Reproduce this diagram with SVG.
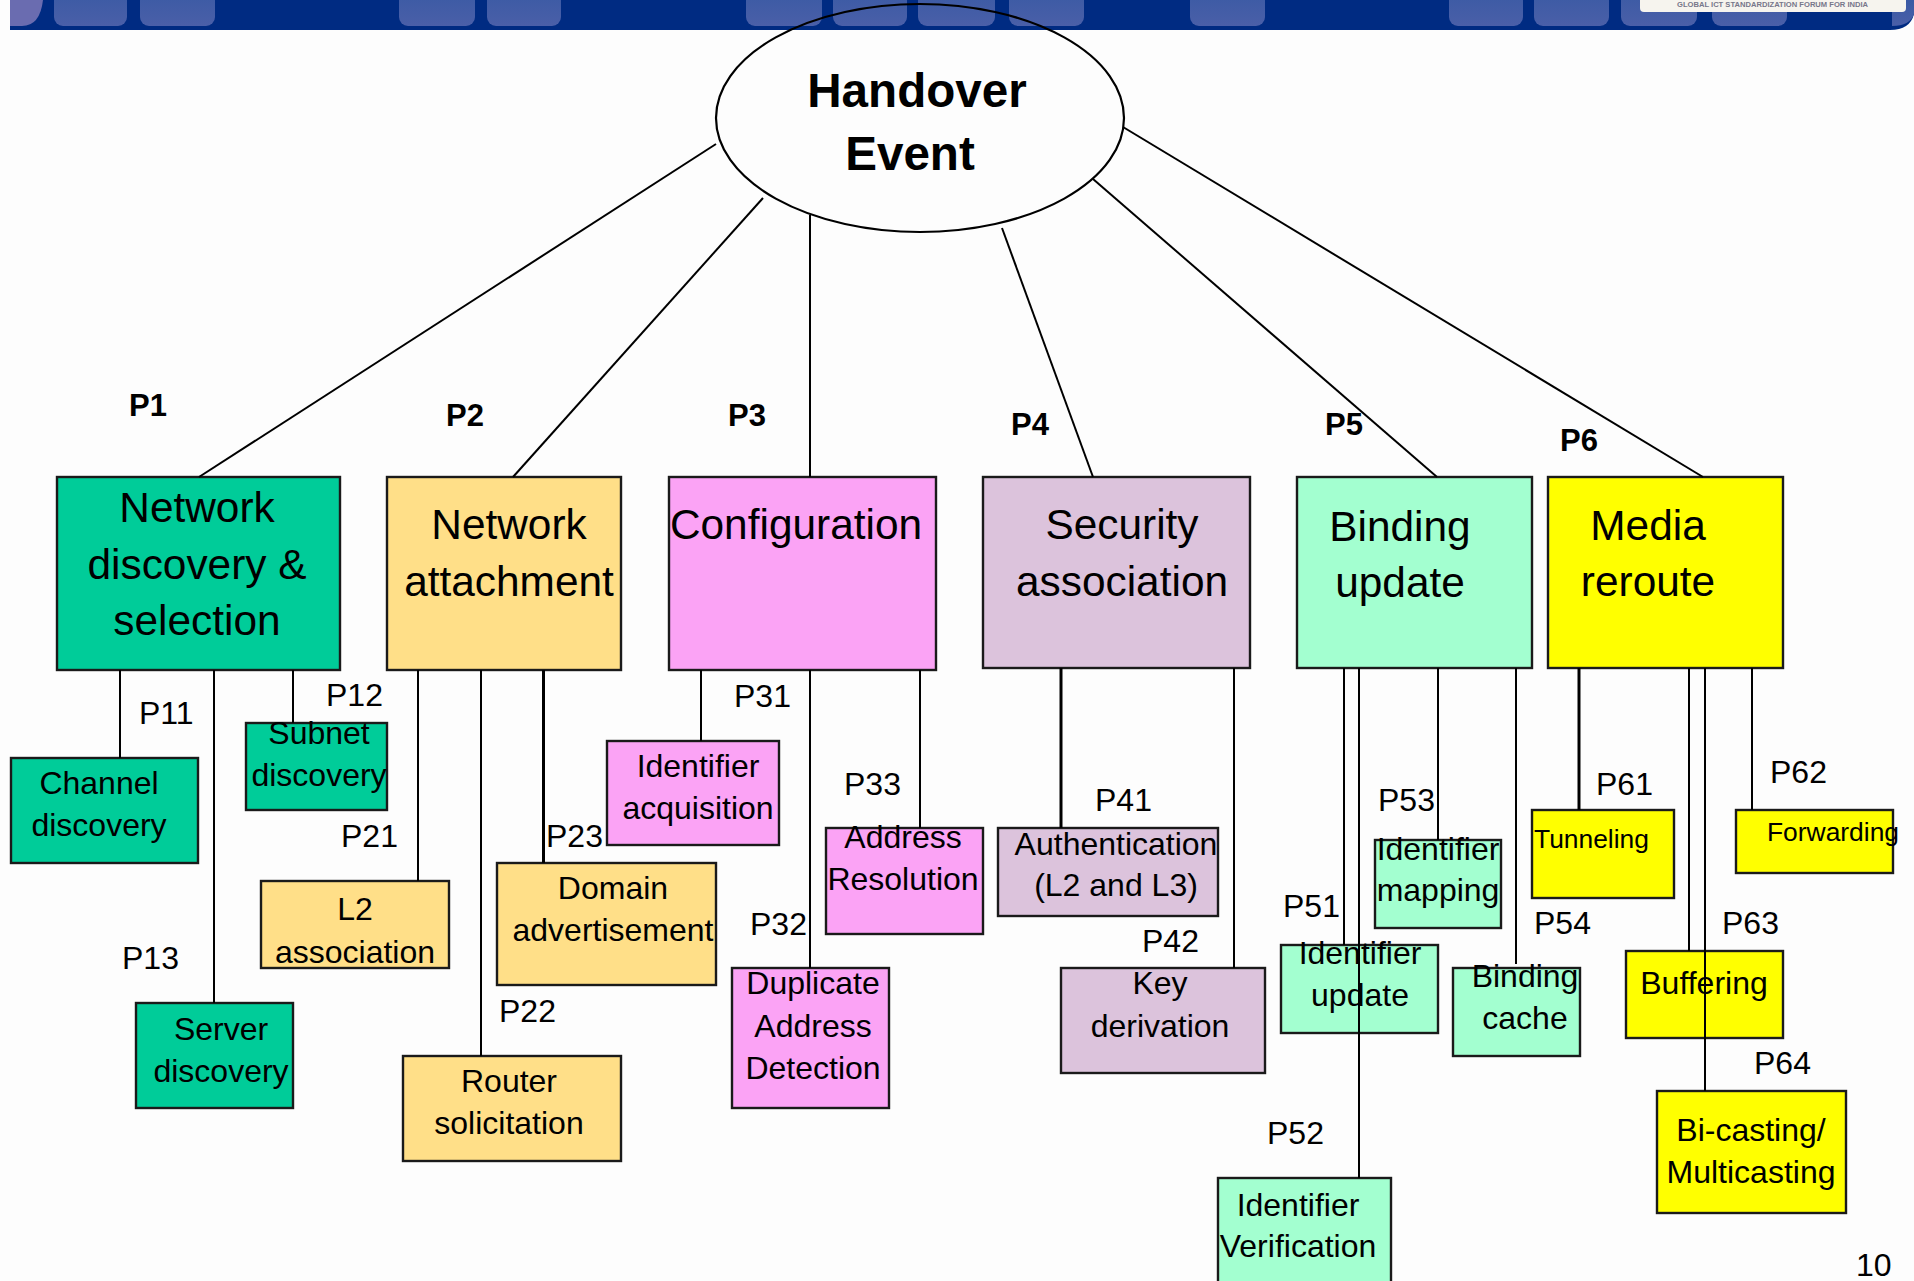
<svg xmlns="http://www.w3.org/2000/svg" width="1914" height="1281" viewBox="0 0 1914 1281">
<defs><linearGradient id="tab" x1="0" y1="0" x2="0" y2="1"><stop offset="0" stop-color="#3a5aa4"/><stop offset="1" stop-color="#4a5fa8"/></linearGradient></defs>
<style>
text{font-family:"Liberation Sans",Arial,sans-serif;fill:#000}
.m{font-size:42.4px;text-anchor:middle}
.c{font-size:32px;text-anchor:middle}
.p{font-size:32px}
.b{font-size:31px;font-weight:bold}
.h{font-size:47.600px;font-weight:bold;text-anchor:middle}
.s{font-size:26.400px}
rect.n{stroke:#1a1a1a;stroke-width:2.4}
.g{fill:#00cc99}.t{fill:#ffdf88}.k{fill:#fba3f5}.v{fill:#dcc3dc}.i{fill:#a3ffd0}.y{fill:#ffff00}
.tb{fill:url(#tab)}
#connectors line{stroke:#000;stroke-width:2}
#connectors line.w{stroke-width:3}
</style>
<rect width="1914" height="1281" fill="#fdfdfd"/>
<g id="banner">
<path d="M10 0H1914V14Q1910 30 1890 30H10Z" fill="#002b82"/>
<path d="M10 0H43Q40 26 22 26H10Z" fill="#6a6cb0"/>
<g class="tb">
<rect x="54" y="-10" width="73" height="36" rx="9"/><rect x="140" y="-10" width="75" height="36" rx="9"/>
<rect x="399" y="-10" width="76" height="36" rx="9"/><rect x="487" y="-10" width="74" height="36" rx="9"/>
<rect x="746" y="-10" width="76" height="36" rx="9"/><rect x="833" y="-10" width="74" height="36" rx="9"/>
<rect x="918" y="-10" width="77" height="36" rx="9"/><rect x="1009" y="-10" width="75" height="36" rx="9"/>
<rect x="1190" y="-10" width="75" height="36" rx="9"/><rect x="1449" y="-10" width="74" height="36" rx="9"/>
<rect x="1534" y="-10" width="75" height="36" rx="9"/><rect x="1621" y="-10" width="76" height="36" rx="9"/>
<rect x="1712" y="-10" width="75" height="36" rx="9"/><path d="M1892 0H1914V14Q1910 26 1892 26Z"/>
</g>
<rect x="1640" y="-6" width="266" height="18" rx="4" fill="#f6f4ee"/>
<text x="1677" y="7" font-size="7.600" font-weight="bold" style="fill:#77778a">GLOBAL ICT STANDARDIZATION FORUM FOR INDIA</text>
</g>
<g id="n0"><ellipse cx="920" cy="118" rx="204" ry="114" fill="none" stroke="#000" stroke-width="2.200"/><text class="h" x="917" y="107">Handover</text><text class="h" x="910" y="170">Event</text></g>
<g id="p1"><rect class="n g" x="57" y="477" width="283" height="193"/><text class="m" x="197" y="522">Network</text><text class="m" x="197" y="579">discovery &amp;</text><text class="m" x="197" y="635">selection</text></g>
<g id="p2"><rect class="n t" x="387" y="477" width="234" height="193"/><text class="m" x="509" y="539">Network</text><text class="m" x="509" y="596">attachment</text></g>
<g id="p3"><rect class="n k" x="669" y="477" width="267" height="193"/><text class="m" x="796" y="539">Configuration</text></g>
<g id="p4"><rect class="n v" x="983" y="477" width="267" height="191"/><text class="m" x="1122" y="539">Security</text><text class="m" x="1122" y="596">association</text></g>
<g id="p5"><rect class="n i" x="1297" y="477" width="235" height="191"/><text class="m" x="1400" y="541">Binding</text><text class="m" x="1400" y="597">update</text></g>
<g id="p6"><rect class="n y" x="1548" y="477" width="235" height="191"/><text class="m" x="1648" y="540">Media</text><text class="m" x="1648" y="596">reroute</text></g>
<g id="p11"><rect class="n g" x="11" y="758" width="187" height="105"/><text class="c" x="99" y="794">Channel</text><text class="c" x="99" y="836">discovery</text></g>
<g id="p12"><rect class="n g" x="246" y="723" width="141" height="87"/><text class="c" x="319" y="744">Subnet</text><text class="c" x="319" y="786">discovery</text></g>
<g id="p13"><rect class="n g" x="136" y="1003" width="157" height="105"/><text class="c" x="221" y="1040">Server</text><text class="c" x="221" y="1082">discovery</text></g>
<g id="p21"><rect class="n t" x="261" y="881" width="188" height="87"/><text class="c" x="355" y="920">L2</text><text class="c" x="355" y="963">association</text></g>
<g id="p23"><rect class="n t" x="497" y="863" width="219" height="122"/><text class="c" x="613" y="899">Domain</text><text class="c" x="613" y="941">advertisement</text></g>
<g id="p22"><rect class="n t" x="403" y="1056" width="218" height="105"/><text class="c" x="509" y="1092">Router</text><text class="c" x="509" y="1134">solicitation</text></g>
<g id="p31"><rect class="n k" x="607" y="741" width="172" height="104"/><text class="c" x="698" y="777">Identifier</text><text class="c" x="698" y="819">acquisition</text></g>
<g id="p33"><rect class="n k" x="826" y="828" width="157" height="106"/><text class="c" x="903" y="848">Address</text><text class="c" x="903" y="890">Resolution</text></g>
<g id="p32"><rect class="n k" x="732" y="968" width="157" height="140"/><text class="c" x="813" y="994">Duplicate</text><text class="c" x="813" y="1037">Address</text><text class="c" x="813" y="1079">Detection</text></g>
<g id="p41"><rect class="n v" x="998" y="828" width="220" height="88"/><text class="c" x="1116" y="855">Authentication</text><text class="c" x="1116" y="896">(L2 and L3)</text></g>
<g id="p42"><rect class="n v" x="1061" y="968" width="204" height="105"/><text class="c" x="1160" y="994">Key</text><text class="c" x="1160" y="1037">derivation</text></g>
<g id="p51"><rect class="n i" x="1281" y="945" width="157" height="88"/><text class="c" x="1360" y="964">Identifier</text><text class="c" x="1360" y="1006">update</text></g>
<g id="p53"><rect class="n i" x="1375" y="840" width="126" height="88"/><text class="c" x="1438" y="860">Identifier</text><text class="c" x="1438" y="901">mapping</text></g>
<g id="p54"><rect class="n i" x="1453" y="968" width="127" height="88"/><text class="c" x="1525" y="987">Binding</text><text class="c" x="1525" y="1029">cache</text></g>
<g id="p52"><rect class="n i" x="1218" y="1178" width="173" height="110"/><text class="c" x="1298" y="1216">Identifier</text><text class="c" x="1298" y="1257">Verification</text></g>
<g id="p61"><rect class="n y" x="1532" y="810" width="142" height="88"/><text class="s" x="1534" y="848">Tunneling</text></g>
<g id="p62"><rect class="n y" x="1736" y="810" width="157" height="63"/><text class="s" x="1767" y="841">Forwarding</text></g>
<g id="p63"><rect class="n y" x="1626" y="951" width="157" height="87"/><text class="c" x="1704" y="994">Buffering</text></g>
<g id="p64"><rect class="n y" x="1657" y="1091" width="189" height="122"/><text class="c" x="1751" y="1141">Bi-casting/</text><text class="c" x="1751" y="1183">Multicasting</text></g>
<g id="connectors">
<line x1="716" y1="144" x2="199" y2="477"/><line x1="763" y1="198" x2="513" y2="477"/><line x1="810" y1="215" x2="810" y2="477"/><line x1="1002" y1="228" x2="1093" y2="477"/><line x1="1093" y1="179" x2="1437" y2="477"/><line x1="1123" y1="127" x2="1703" y2="477"/>
<line x1="120" y1="670" x2="120" y2="758"/><line x1="214" y1="670" x2="214" y2="1003"/><line x1="293" y1="670" x2="293" y2="723"/>
<line x1="418" y1="670" x2="418" y2="881"/><line x1="481" y1="670" x2="481" y2="1056"/><line class="w" x1="543.500" y1="670" x2="543.500" y2="863"/>
<line x1="701" y1="670" x2="701" y2="741"/><line x1="810" y1="670" x2="810" y2="968"/><line x1="920" y1="670" x2="920" y2="828"/>
<line class="w" x1="1061" y1="668" x2="1061" y2="828"/><line x1="1234" y1="668" x2="1234" y2="968"/>
<line x1="1344" y1="668" x2="1344" y2="945"/><line x1="1359" y1="668" x2="1359" y2="1178"/><line x1="1438" y1="668" x2="1438" y2="840"/><line x1="1516" y1="668" x2="1516" y2="964"/>
<line class="w" x1="1579" y1="668" x2="1579" y2="810"/><line x1="1689" y1="668" x2="1689" y2="951"/><line x1="1705" y1="668" x2="1705" y2="1091"/><line x1="1752" y1="668" x2="1752" y2="810"/>
</g>
<g id="labels">
<text class="b" x="129" y="416">P1</text><text class="b" x="446" y="426">P2</text><text class="b" x="728" y="426">P3</text><text class="b" x="1011" y="435">P4</text><text class="b" x="1325" y="435">P5</text><text class="b" x="1560" y="451">P6</text>
<text class="p" x="139" y="724">P11</text><text class="p" x="326" y="706">P12</text><text class="p" x="122" y="969">P13</text>
<text class="p" x="341" y="847">P21</text><text class="p" x="499" y="1022">P22</text><text class="p" x="546" y="847">P23</text>
<text class="p" x="734" y="707">P31</text><text class="p" x="750" y="935">P32</text><text class="p" x="844" y="795">P33</text>
<text class="p" x="1095" y="811">P41</text><text class="p" x="1142" y="952">P42</text>
<text class="p" x="1283" y="917">P51</text><text class="p" x="1267" y="1144">P52</text><text class="p" x="1378" y="811">P53</text><text class="p" x="1534" y="934">P54</text>
<text class="p" x="1596" y="795">P61</text><text class="p" x="1770" y="783">P62</text><text class="p" x="1722" y="934">P63</text><text class="p" x="1754" y="1074">P64</text>
<text class="p" x="1856" y="1276">10</text>
</g>
</svg>
